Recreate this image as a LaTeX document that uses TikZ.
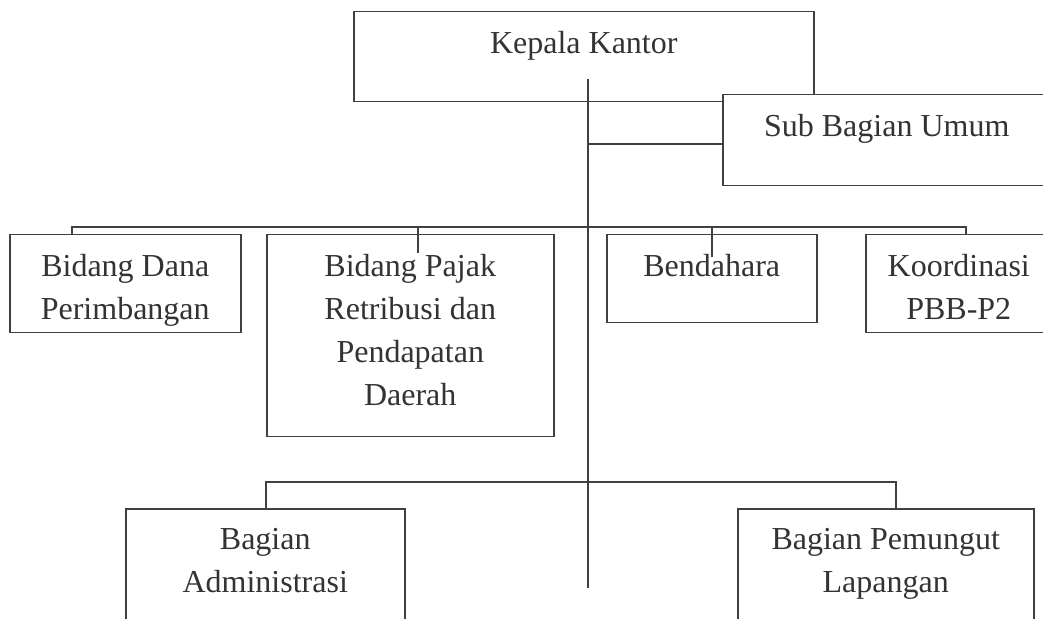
\documentclass[tikz,border=0pt]{standalone}
\usepackage{fontspec}
\setmainfont{Liberation Serif}
\usepackage{tikz}
\usetikzlibrary{positioning,calc}
\definecolor{orgline}{HTML}{404040}
\definecolor{orgtext}{HTML}{333333}
\tikzset{
    unit/.style 2 args={draw=orgline,fill=white,line width=0.75pt,anchor=north west,
        minimum width=0.5pt*#1,minimum height=0.5pt*#2,inner sep=0pt},
    txt/.style={anchor=north,yshift=-10pt,align=center,inner sep=0pt,text=orgtext,
        font=\fontsize{16}{21.5}\selectfont},
    link/.style={draw=orgline,line width=0.75pt},
}

\begin{document}
\begin{tikzpicture}[x=0.5pt,y=-0.5pt]
    \clip (0,0) rectangle (1043,619);
    \node[unit={460}{90},label={[txt]north:Kepala Kantor}] (kepala) at (353,11) {};
    \node[unit={328}{91},label={[txt]north:Sub Bagian Umum}] (umum) at (722,94) {};
    \node[unit={231}{98},label={[txt]north:Bidang Dana\\Perimbangan}] (dana) at (9,234) {};
    \node[unit={287}{202},label={[txt]north:Bidang Pajak\\Retribusi dan\\Pendapatan\\Daerah}] (pajak) at (266,234) {};
    \node[unit={210}{88},label={[txt]north:Bendahara}] (bend) at (606,234) {};
    \node[unit={186}{98},label={[txt]north:Koordinasi\\PBB-P2}] (koord) at (865,234) {};
    \node[unit={279}{142},label={[txt]north:Bagian\\Administrasi}] (admin) at (125,508) {};
    \node[unit={296}{142},label={[txt]north:Bagian Pemungut\\Lapangan}] (pungut) at (737,508) {};

    % garis komando
    \coordinate (top) at (588,79);
    \coordinate (bottom) at (588,588);
    \coordinate (busL) at (72,227);
    \coordinate (busR) at (966,227);
    \coordinate (lowL) at (266,482);
    \coordinate (lowR) at (896,482);

    \draw[link] (top) -- (bottom);
    \draw[link] (top |- 0,144) -- (umum.west |- 0,144);
    \draw[link] (dana.north -| busL) -- (busL) -- (busR) -- (koord.north -| busR);
    \draw[link] ([xshift=3.75pt]pajak.north |- busL) -- ([xshift=3.75pt,yshift=-9.5pt]pajak.north);
    \draw[link] (bend.north |- busL) -- ([yshift=-11.5pt]bend.north);
    \draw[link] (admin.north -| lowL) -- (lowL) -- (lowR) -- (pungut.north -| lowR);
\end{tikzpicture}
\end{document}
